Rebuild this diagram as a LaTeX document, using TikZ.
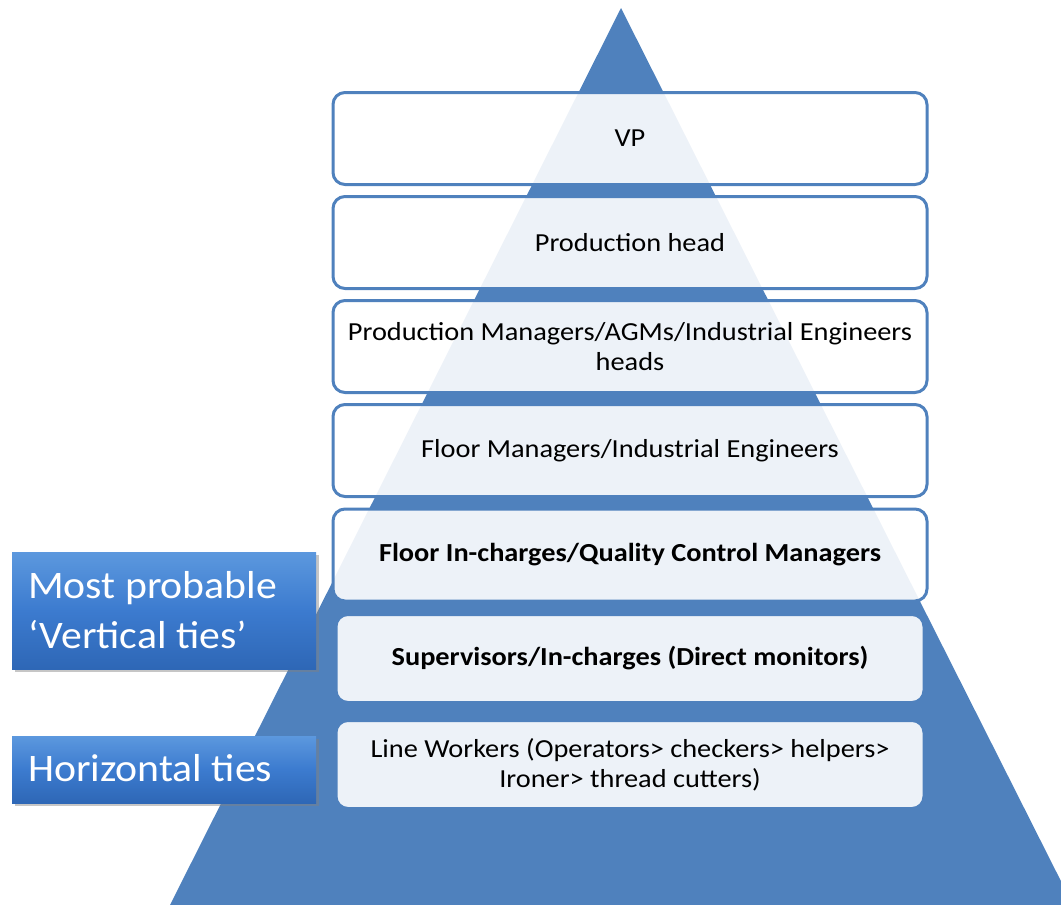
\documentclass[tikz,border=0pt]{standalone}
\usepackage{fontspec}
\setmainfont{Carlito}
\newfontfamily\tierfont{Carlito}[FakeStretch=1.09]
\newfontfamily\labfont{Carlito}[FakeStretch=1.07]
\usetikzlibrary{shadows}
\definecolor{tri}{HTML}{4F81BD}
\definecolor{labtop}{HTML}{5C98DE}
\definecolor{labmid}{HTML}{3C7BCF}
\definecolor{labbot}{HTML}{2E67B6}
\tikzset{
  tier/.style={draw=tri, line width=3pt, rounded corners=12pt, fill=white,
    fill opacity=0.9, text opacity=1, minimum width=594pt, minimum height=92pt,
    align=center, font=\tierfont\fontsize{26}{30}\selectfont, text=black, inner sep=0pt},
  labbox/.style={rectangle, top color=labtop, bottom color=labbot, middle color=labmid,
    drop shadow={shadow xshift=3pt, shadow yshift=-3pt, opacity=0.45},
    minimum width=304pt, inner sep=0pt},
  labtext/.style={text=white, align=left, font=\labfont\fontsize{39}{50}\selectfont, inner sep=0pt}
}
\begin{document}
\begin{tikzpicture}[x=1pt,y=-1pt]
\useasboundingbox (0,0) rectangle (1061,905);
\begin{scope}
  \clip (0,0) rectangle (1061,905);
  \fill[tri] (621,8) -- (1073,905) -- (170,905) -- cycle;
\end{scope}
\node[tier] (vp)  at (630,138.5) {VP};
\node[tier] (ph)  at (630,242.5) {Production head};
\node[tier] (pm)  at (630,346.5) {Production Managers/AGMs/Industrial Engineers\\heads};
\node[tier] (fm)  at (630,450.5) {Floor Managers/Industrial Engineers};
\node[tier, font=\tierfont\fontsize{26}{30}\selectfont\bfseries] (fi) at (630,555) {Floor In-charges/Quality Control Managers};
\node[tier, minimum height=88pt, minimum width=588pt, font=\tierfont\fontsize{26}{30}\selectfont\bfseries] (sv) at (630,658.5) {Supervisors/In-charges (Direct monitors)};
\node[tier, minimum height=88pt, minimum width=588pt] (lw) at (630,764.5) {Line Workers (Operators> checkers> helpers>\\Ironer> thread cutters)};
\node[labbox, minimum height=117pt] (vt) at (164,610.5) {};
\node[labtext, anchor=west] (vtt) at (28,610) {Most probable\\‘Vertical ties’};
\node[labbox, minimum height=67pt] (ht) at (164,769.5) {};
\node[labtext, anchor=west] (htt) at (28,768) {Horizontal ties};
\end{tikzpicture}
\end{document}
